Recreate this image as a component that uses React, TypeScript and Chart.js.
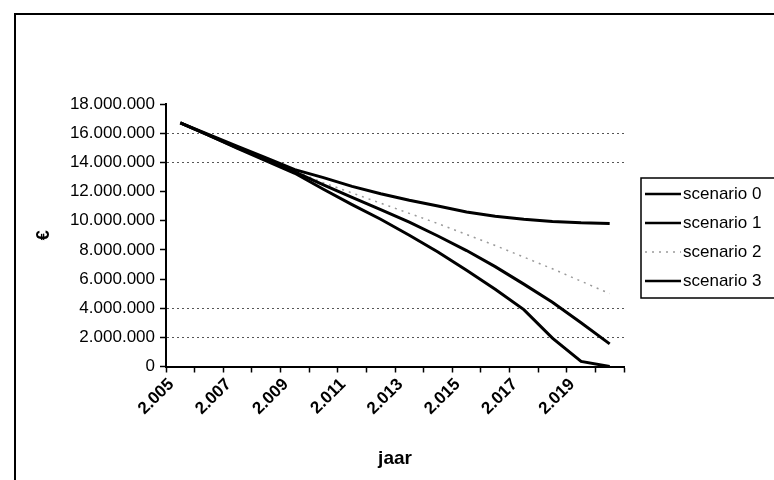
import React, { useEffect, useRef } from "react";
import { Chart, registerables } from "chart.js";

Chart.register(...registerables);

const years = [
  "2.005", "2.006", "2.007", "2.008", "2.009", "2.010", "2.011", "2.012",
  "2.013", "2.014", "2.015", "2.016", "2.017", "2.018", "2.019", "2.020",
];

const seriesNames = ["scenario 0", "scenario 1", "scenario 2", "scenario 3"];

const scenario0 = [
  16700000, 15900000, 15100000, 14300000, 13500000, 12950000, 12350000, 11850000,
  11400000, 11000000, 10600000, 10300000, 10100000, 9950000, 9850000, 9800000,
];
const scenario1 = [
  16700000, 15850000, 15000000, 14200000, 13350000, 12450000, 11600000, 10750000,
  9900000, 8950000, 7950000, 6850000, 5650000, 4400000, 3000000, 1550000,
];
const scenario2 = [
  16700000, 15850000, 15000000, 14200000, 13400000, 12600000, 11900000, 11200000,
  10500000, 9800000, 9050000, 8300000, 7500000, 6700000, 5850000, 5000000,
];
const scenario3 = [
  16700000, 15850000, 14950000, 14100000, 13250000, 12150000, 11100000, 10100000,
  9000000, 7850000, 6600000, 5300000, 3900000, 1950000, 350000, 0,
];

const yMin = 0;
const yMax = 18000000;
const yStep = 2000000;
const visibleGridValues = [2000000, 4000000, 14000000, 16000000];

const FONT = '"Liberation Sans", Arial, Helvetica, sans-serif';

function fmt(v: number): string {
  return Math.round(v).toString().replace(/\B(?=(\d{3})+(?!\d))/g, ".");
}

const framePlugin = {
  id: "framePlugin",
  beforeDraw(chart: any) {
    const { ctx, width, height } = chart;
    ctx.save();
    ctx.fillStyle = "#ffffff";
    ctx.fillRect(0, 0, width, height);
    ctx.restore();
  },
  afterDraw(chart: any) {
    const { ctx } = chart;
    ctx.save();
    // outer chart frame (clipped by the picture on the right and bottom)
    ctx.strokeStyle = "#000";
    ctx.lineWidth = 2;
    ctx.strokeRect(15, 14, 820, 520);

    // legend box
    ctx.lineWidth = 1.5;
    ctx.strokeRect(641, 178, 200, 120);
    chart.data.datasets.forEach((ds: any, i: number) => {
      const y = 194 + i * 29;
      ctx.beginPath();
      ctx.setLineDash(ds.borderDash || []);
      ctx.strokeStyle = ds.borderColor;
      ctx.lineWidth = ds.borderDash && ds.borderDash.length ? 1.5 : 2.5;
      ctx.moveTo(645, y);
      ctx.lineTo(681, y);
      ctx.stroke();
      ctx.setLineDash([]);
      ctx.fillStyle = "#000";
      ctx.font = `17px ${FONT}`;
      ctx.textBaseline = "middle";
      ctx.textAlign = "left";
      ctx.fillText(ds.label, 683, y);
    });
    ctx.restore();
  },
};

export default function App() {
  const canvasRef = useRef<HTMLCanvasElement | null>(null);

  useEffect(() => {
    if (!canvasRef.current) return;
    const series = [scenario0, scenario1, scenario2, scenario3];
    const chart = new Chart(canvasRef.current, {
      type: "line",
      data: {
        labels: years,
        datasets: series.map((values, i) => ({
          label: seriesNames[i],
          data: values,
          borderColor: i === 2 ? "#9a9a9a" : "#000000",
          borderWidth: i === 2 ? 1.5 : 3,
          borderDash: i === 2 ? [2, 5] : [],
          pointRadius: 0,
          tension: 0,
          fill: false,
        })),
      },
      options: {
        responsive: false,
        animation: false,
        layout: { padding: { top: 104, right: 150, bottom: 0, left: 0 } },
        plugins: {
          legend: { display: false },
          tooltip: { enabled: false },
          title: { display: false },
        },
        scales: {
          x: {
            type: "category",
            offset: true,
            afterFit(scale: any) {
              scale.height = 113.5;
            },
            grid: {
              offset: true,
              drawOnChartArea: false,
              drawTicks: true,
              tickLength: 6,
              color: "#000",
              tickColor: "#000",
              tickWidth: 1.5,
            },
            border: { display: true, color: "#000", width: 2 },
            ticks: {
              autoSkip: false,
              maxRotation: 45,
              minRotation: 45,
              padding: 2,
              labelOffset: -9,
              color: "#000",
              font: { family: FONT, size: 17, weight: "bold" },
              callback: (_v: any, i: number) => (i % 2 === 0 ? years[i] : ""),
            },
            title: {
              display: true,
              text: "jaar",
              color: "#000",
              font: { family: FONT, size: 19, weight: "bold" },
              padding: { top: 4, bottom: 10 },
            },
          },
          y: {
            min: yMin,
            max: yMax,
            afterFit(scale: any) {
              scale.width = 166;
            },
            grid: {
              drawTicks: true,
              tickLength: 6,
              lineWidth: 1,
              color: (c: any) =>
                c.tick && visibleGridValues.includes(c.tick.value)
                  ? "#555"
                  : "rgba(0,0,0,0)",
              tickColor: "#000",
              tickWidth: 1.5,
            },
            border: { display: true, color: "#000", width: 2, dash: [2, 3] },
            ticks: {
              stepSize: yStep,
              padding: 5,
              color: "#000",
              font: { family: FONT, size: 17 },
              callback: (v: any) => fmt(Number(v)),
            },
            title: {
              display: true,
              text: "€",
              color: "#000",
              font: { family: FONT, size: 18, weight: "bold" },
              padding: { top: 33, bottom: 0 },
            },
          },
        },
      },
      plugins: [framePlugin],
    } as any);
    return () => chart.destroy();
  }, []);

  return (
    <div style={{ position: "absolute", left: 0, top: 0, width: 774, height: 480 }}>
      <canvas ref={canvasRef} width={774} height={480} style={{ display: "block" }} />
    </div>
  );
}
